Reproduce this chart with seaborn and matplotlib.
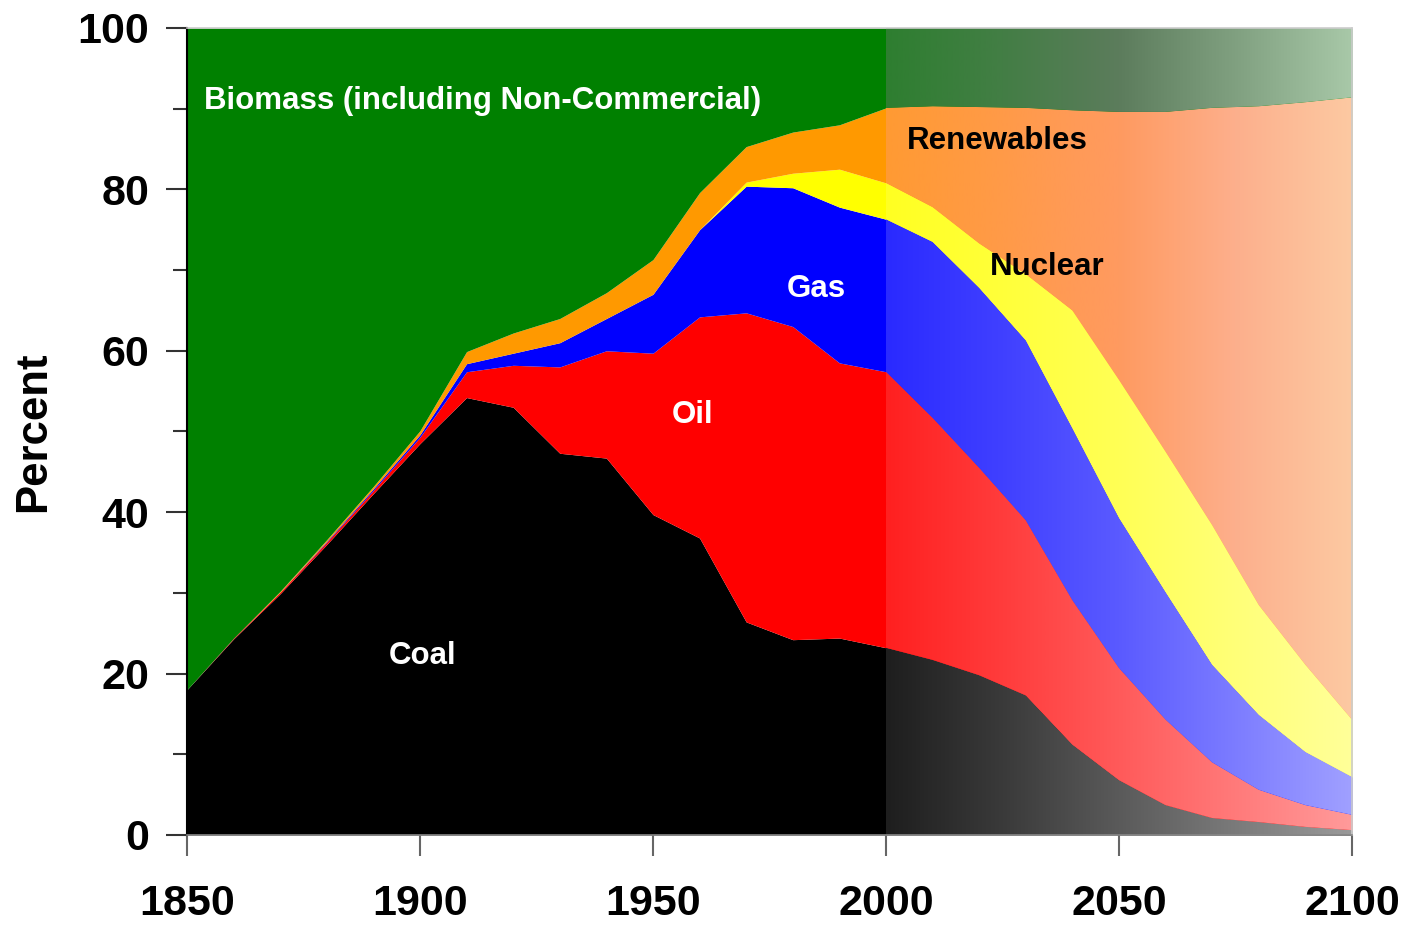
import numpy as np
import matplotlib
matplotlib.use("Agg")
import matplotlib.pyplot as plt
import seaborn as sns
from matplotlib.ticker import MultipleLocator

# ---------------- data (percent share of primary energy) ----------------
years = [1850, 1860, 1870, 1880, 1890, 1900, 1910, 1920, 1930, 1940, 1950, 1960, 1970,
         1980, 1990, 2000, 2010, 2020, 2030, 2040, 2050, 2060, 2070, 2080, 2090, 2100]
coal = [18.0, 24.3, 29.9, 36.0, 42.3, 48.5, 54.2, 53.0, 47.3, 46.7, 39.7, 36.8, 26.4,
        24.2, 24.4, 23.2, 21.7, 19.8, 17.3, 11.2, 6.8, 3.7, 2.1, 1.6, 1.0, 0.6]
oil = [0.0, 0.1, 0.2, 0.3, 0.4, 0.8, 3.2, 5.2, 10.7, 13.3, 20.0, 27.4, 38.3,
       38.8, 34.1, 34.2, 30.0, 25.7, 21.7, 17.9, 13.9, 10.6, 6.9, 4.0, 2.7, 1.9]
gas = [0.0, 0.0, 0.0, 0.1, 0.2, 0.3, 1.0, 1.5, 3.0, 4.0, 7.3, 10.8, 15.7,
       17.2, 19.3, 18.9, 21.8, 22.3, 22.3, 21.3, 18.6, 15.8, 12.1, 9.3, 6.6, 4.7]
nuclear = [0.0, 0.0, 0.0, 0.0, 0.0, 0.0, 0.0, 0.0, 0.0, 0.0, 0.0, 0.0, 0.5,
           1.8, 4.7, 4.5, 4.3, 5.5, 8.2, 14.6, 17.1, 17.4, 17.3, 13.6, 10.8, 7.1]
renewables = [0.0, 0.0, 0.1, 0.2, 0.3, 0.5, 1.5, 2.5, 3.0, 3.2, 4.3, 4.6, 4.4,
              5.1, 5.5, 9.3, 12.5, 16.9, 20.6, 24.8, 33.2, 42.1, 51.7, 61.8, 69.7, 77.1]
biomass = [82.0, 75.6, 69.8, 63.4, 56.8, 49.9, 40.1, 37.8, 36.0, 32.8, 28.7, 20.4, 14.7,
           12.9, 12.0, 9.9, 9.7, 9.8, 9.9, 10.2, 10.4, 10.4, 9.9, 9.7, 9.2, 8.6]

series_names = ["Coal", "Oil", "Gas", "Nuclear", "Renewables", "Biomass"]
base_colors = ["#000000", "#ff0000", "#0000ff", "#ffff00", "#ff9900", "#008000"]
# colours of the faded projection (2000, 2025, 2050, 2075, 2100)
fade_stops = [
    ["#1e1e1e", "#3a3a3a", "#5a5a5a", "#7a7a7a", "#9a9a9a"],
    ["#ff2020", "#ff3c3c", "#ff5a5a", "#ff7a7a", "#ff9a9a"],
    ["#2a2aff", "#4040ff", "#5a5aff", "#7c7cff", "#a0a0ff"],
    ["#ffff22", "#ffff3a", "#ffff55", "#ffff78", "#ffff99"],
    ["#ff9a33", "#ff9a48", "#ff9a60", "#fdaf8c", "#fcc9a2"],
    ["#2e7e30", "#437e45", "#5c7c5c", "#80a080", "#a8c8a8"],
]
fade_start, fade_end = 2000, 2100

# ---------------- figure ----------------
sns.set_style("ticks")
plt.rcParams["font.family"] = ["Liberation Sans", "DejaVu Sans"]
plt.rcParams["font.weight"] = "bold"

fig = plt.figure(figsize=(14.09, 9.26), dpi=100)
ax = fig.add_axes([0.1327, 0.0983, 0.8268, 0.8715])

polys = ax.stackplot(years, coal, oil, gas, nuclear, renewables, biomass,
                     colors=base_colors, linewidth=0, antialiased=False,
                     labels=series_names)

for poly, stops in zip(polys, fade_stops):
    cols = np.array(sns.blend_palette(stops, n_colors=256))
    img = cols[np.newaxis, :, :3]
    im = ax.imshow(img, extent=[fade_start, fade_end, 0, 100], origin="lower",
                   aspect="auto", interpolation="bilinear",
                   zorder=poly.get_zorder() + 0.01)
    im.set_clip_path(poly.get_paths()[0], ax.transData)

ax.set_xlim(1850, 2100)
ax.set_ylim(0, 100)

# ---------------- in-chart labels ----------------
lab = dict(fontsize=22.5, fontweight="bold")
ax.text(1853.6, 91.0, "Biomass (including Non-Commercial)", color="white",
        ha="left", va="center", **lab)
ax.text(2004.5, 86.0, "Renewables", color="black", ha="left", va="center", **lab)
ax.text(2022.3, 70.4, "Nuclear", color="black", ha="left", va="center", **lab)
ax.text(1985.0, 67.6, "Gas", color="white", ha="center", va="center", **lab)
ax.text(1958.4, 52.1, "Oil", color="white", ha="center", va="center", **lab)
ax.text(1900.6, 22.2, "Coal", color="white", ha="center", va="center", **lab)

# ---------------- axes styling ----------------
ax.set_xticks(range(1850, 2101, 50))
ax.set_yticks(range(0, 101, 20))
ax.yaxis.set_minor_locator(MultipleLocator(10))
ax.tick_params(axis="both", which="major", direction="out", length=15, width=1.5,
               labelsize=31, color="#333333", labelcolor="black")
ax.tick_params(axis="y", which="major", pad=12)
ax.tick_params(axis="x", which="major", pad=20, color="#666666")
ax.tick_params(axis="y", which="minor", direction="out", length=10, width=1.5,
               color="#333333")
for t in ax.get_xticklabels() + ax.get_yticklabels():
    t.set_fontweight("bold")

ax.set_ylabel("Percent", fontsize=31.5, fontweight="bold", labelpad=17, color="black")

ax.spines["left"].set_color("black")
ax.spines["left"].set_linewidth(1.5)
ax.spines["bottom"].set_color("#888888")
ax.spines["bottom"].set_linewidth(1.2)
for s in ("top", "right"):
    ax.spines[s].set_visible(True)
    ax.spines[s].set_color("#cccccc")
    ax.spines[s].set_linewidth(1.2)

fig.savefig("out.png", dpi=100, facecolor="white")
